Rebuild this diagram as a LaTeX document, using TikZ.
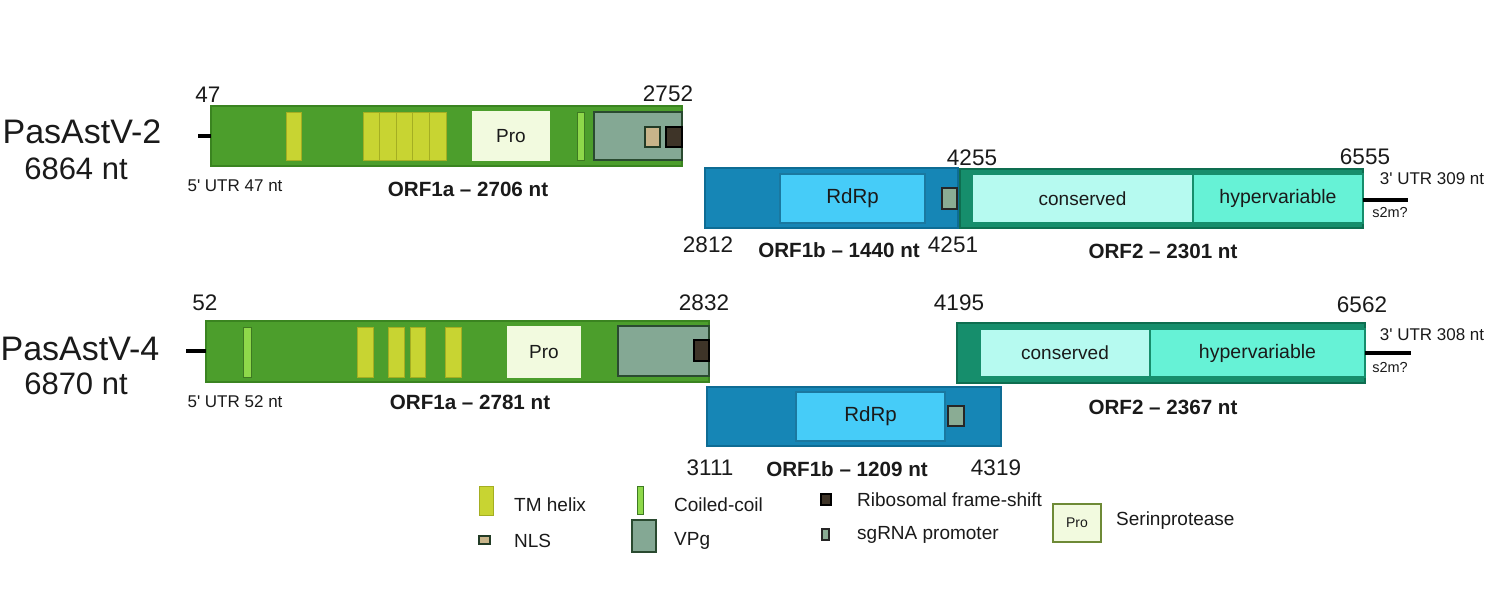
\documentclass[tikz,border=0pt]{standalone}
\usepackage{fontspec}
\setmainfont{Liberation Sans}[Ligatures=TeXOff]
\definecolor{cOa}{HTML}{4C9E2C}
\definecolor{cOaD}{HTML}{3A8420}
\definecolor{cTM}{HTML}{C8D432}
\definecolor{cTMD}{HTML}{A4AE22}
\definecolor{cPro}{HTML}{F2FADF}
\definecolor{cProD}{HTML}{6E8A36}
\definecolor{cCC}{HTML}{8ED84A}
\definecolor{cCCD}{HTML}{3E7A22}
\definecolor{cVPg}{HTML}{84A894}
\definecolor{cVPgD}{HTML}{2A4A30}
\definecolor{cNLS}{HTML}{C8B48A}
\definecolor{cRFS}{HTML}{3E3428}
\definecolor{cOb}{HTML}{1686B6}
\definecolor{cObD}{HTML}{0E6C94}
\definecolor{cRd}{HTML}{46CCF8}
\definecolor{cRdD}{HTML}{1A78A0}
\definecolor{cSg}{HTML}{8AAC94}
\definecolor{cO2}{HTML}{168E6C}
\definecolor{cO2D}{HTML}{0E6E50}
\definecolor{cCons}{HTML}{B6FAF0}
\definecolor{cHyp}{HTML}{66F2D6}
\definecolor{cTxt}{HTML}{1A1A1A}
\newcommand\bx[7]{\node[#2, minimum width=#5pt, minimum height=#6pt] (#1) at (#3,#4) {#7};}
\begin{document}
\begin{tikzpicture}[x=1pt,y=-1pt,
  box/.style={draw, line width=1.2pt, inner sep=0pt, outer sep=0pt, anchor=north west},
  orfa/.style={box, fill=cOa, draw=cOaD},
  tm/.style={box, fill=cTM, draw=cTMD, line width=0.8pt},
  pro/.style={box, fill=cPro, draw=cPro, font=\fontsize{19}{21}\selectfont, text=cTxt},
  cc/.style={box, fill=cCC, draw=cCCD, line width=0.9pt},
  vpg/.style={box, fill=cVPg, draw=cVPgD, line width=1.2pt},
  nls/.style={box, fill=cNLS, draw=cVPgD!80!black, line width=1.1pt},
  rfs/.style={box, fill=cRFS, draw=black, line width=1.1pt},
  orfb/.style={box, fill=cOb, draw=cObD},
  rdrp/.style={box, fill=cRd, draw=cRdD, font=\fontsize{20.5}{22}\selectfont, text=cTxt},
  sg/.style={box, fill=cSg, draw=black!85, line width=1.1pt},
  orftwo/.style={box, fill=cO2, draw=cO2D},
  cons/.style={box, fill=cCons, draw=cO2, font=\fontsize{19}{21}\selectfont, text=cTxt},
  hyp/.style={box, fill=cHyp, draw=cO2, font=\fontsize{19.5}{21}\selectfont, text=cTxt},
  utr/.style={line width=4pt, black},
  virus/.style={inner sep=0pt, font=\fontsize{34}{38}\selectfont, text=cTxt},
  glen/.style={inner sep=0pt, font=\fontsize{31}{35}\selectfont, text=cTxt},
  num/.style={inner sep=0pt, font=\fontsize{22.5}{24}\selectfont, text=cTxt},
  orflab/.style={inner sep=0pt, font=\fontsize{20.6}{22}\selectfont\bfseries, text=cTxt},
  utrlab/.style={inner sep=0pt, font=\fontsize{17}{19}\selectfont, text=cTxt},
  utrthree/.style={inner sep=0pt, font=\fontsize{17}{19}\selectfont, text=cTxt},
  smlab/.style={inner sep=0pt, font=\fontsize{14.5}{16}\selectfont, text=cTxt},
  leg/.style={inner sep=0pt, anchor=west, font=\fontsize{19}{21}\selectfont, text=cTxt}
]
\useasboundingbox (0,0) rectangle (1491,613);
\fill[white] (0,0) rectangle (1491,613);

% ---------------- PasAstV-2 ----------------
\node[virus] (v2) at (82,132) {PasAstV-2};
\node[glen] (v2len) at (76,169) {6864 nt};

\bx{oa1}{orfa}{211}{106}{471}{60}{}
\bx{tm1a}{tm}{286}{112}{15}{48}{}
\bx{tm1b}{tm}{363}{112}{16.6}{48}{}
\bx{tm1c}{tm}{379.6}{112}{16.6}{48}{}
\bx{tm1d}{tm}{396.2}{112}{16.6}{48}{}
\bx{tm1e}{tm}{412.8}{112}{16.6}{48}{}
\bx{tm1f}{tm}{429.4}{112}{16.6}{48}{}
\bx{pro1}{pro}{473}{112}{76}{48}{Pro}
\bx{cc1}{cc}{577}{112}{7}{48}{}
\bx{vpg1}{vpg}{594}{112}{88}{48}{}
\bx{nls1}{nls}{645}{127}{15}{20}{}
\bx{rfs1}{rfs}{666}{127}{16}{20}{}

\coordinate (u5a) at (198,136);
\draw[utr] (u5a) -- (oa1.west |- u5a);

\bx{ob1}{orfb}{705}{168}{253}{60}{}
\bx{rd1}{rdrp}{780}{174}{145}{49}{RdRp}
\bx{sg1}{sg}{942}{188}{15}{21}{}

\bx{o21}{orftwo}{960}{169}{403}{59}{}
\bx{cons1}{cons}{972}{174}{221}{49}{conserved}
\bx{hyp1}{hyp}{1193}{174}{170}{49}{hypervariable}

\coordinate (u3a) at (1408,200);
\draw[utr] (o21.east |- u3a) -- (u3a);

\node[num] (n47) at (208,95) {47};
\node[num] (n2752) at (668,94) {2752};
\node[utrlab] (l5a) at (235,186) {5' UTR 47 nt};
\node[orflab] (lo1a) at (468,189) {ORF1a – 2706 nt};
\node[num] (n4255) at (972,158) {4255};
\node[num] (n2812) at (708,245) {2812};
\node[orflab] (lo1b) at (839,250) {ORF1b – 1440 nt};
\node[num] (n4251) at (953,245) {4251};
\node[orflab] (lo2a) at (1163,251) {ORF2 – 2301 nt};
\node[num] (n6555) at (1365,157) {6555};
\node[utrthree] (l3a) at (1432,179) {3' UTR 309 nt};
\node[smlab] (s2ma) at (1390,213) {s2m?};

% ---------------- PasAstV-4 ----------------
\node[virus] (v4) at (80,349) {PasAstV-4};
\node[glen] (v4len) at (76,384) {6870 nt};

\bx{oa2}{orfa}{206}{321}{503}{61}{}
\bx{cc2}{cc}{243}{327}{8}{50}{}
\bx{tm2a}{tm}{357}{327}{16}{50}{}
\bx{tm2b}{tm}{388}{327}{16}{50}{}
\bx{tm2c}{tm}{410}{327}{15}{50}{}
\bx{tm2d}{tm}{445}{327}{16}{50}{}
\bx{pro2}{pro}{508}{327}{72}{50}{Pro}
\bx{vpg2}{vpg}{618}{326}{91}{50}{}
\bx{rfs2}{rfs}{694}{340}{15}{21}{}

\coordinate (u5b) at (186,351);
\draw[utr] (u5b) -- (oa2.west |- u5b);

\bx{o22}{orftwo}{957}{323}{408}{60}{}
\bx{cons2}{cons}{980}{329}{170}{48}{conserved}
\bx{hyp2}{hyp}{1150}{329}{215}{48}{hypervariable}

\coordinate (u3b) at (1411,353);
\draw[utr] (o22.east |- u3b) -- (u3b);

\bx{ob2}{orfb}{707}{387}{294}{59}{}
\bx{rd2}{rdrp}{796}{392}{149}{49}{RdRp}
\bx{sg2}{sg}{948}{406}{16}{20}{}

\node[num] (n52) at (205,303) {52};
\node[num] (n2832) at (704,303) {2832};
\node[utrlab] (l5b) at (235,402) {5' UTR 52 nt};
\node[orflab] (lo1a2) at (470,402) {ORF1a – 2781 nt};
\node[num] (n4195) at (959,303) {4195};
\node[num] (n6562) at (1362,305) {6562};
\node[utrthree] (l3b) at (1432,335) {3' UTR 308 nt};
\node[smlab] (s2mb) at (1390,368) {s2m?};
\node[orflab] (lo2b) at (1163,407) {ORF2 – 2367 nt};
\node[num] (n3111) at (710,468) {3111};
\node[orflab] (lo1b2) at (847,469) {ORF1b – 1209 nt};
\node[num] (n4319) at (996,468) {4319};

% ---------------- Legend ----------------
\bx{kTM}{tm}{479}{486}{14}{29}{}
\node[leg] (tTM) at (514,505) {TM helix};
\bx{kNLS}{nls}{479}{536}{11}{8}{}
\node[leg] (tNLS) at (514,541) {NLS};
\bx{kCC}{cc}{637}{486}{6}{28}{}
\node[leg] (tCC) at (674,505) {Coiled-coil};
\bx{kVPg}{vpg}{632}{520}{24}{32}{}
\node[leg] (tVPg) at (674,541) {VPg};
\bx{kRFS}{rfs}{821}{494}{10}{11}{}
\node[leg] (tRFS) at (857,500) {Ribosomal frame-shift};
\bx{kSG}{sg}{822}{529}{7}{11}{}
\node[leg] (tSG) at (857,535) {sgRNA promoter};
\bx{kPro}{pro}{1053}{504}{48}{38}{}
\node[inner sep=0pt, font=\fontsize{14}{16}\selectfont, text=cTxt] (tProIn) at (kPro.center) {Pro};
\draw[cProD, line width=1.3pt] (kPro.north west) rectangle (kPro.south east);
\node[leg] (tPro) at (1116,521) {Serinprotease};
\end{tikzpicture}
\end{document}
